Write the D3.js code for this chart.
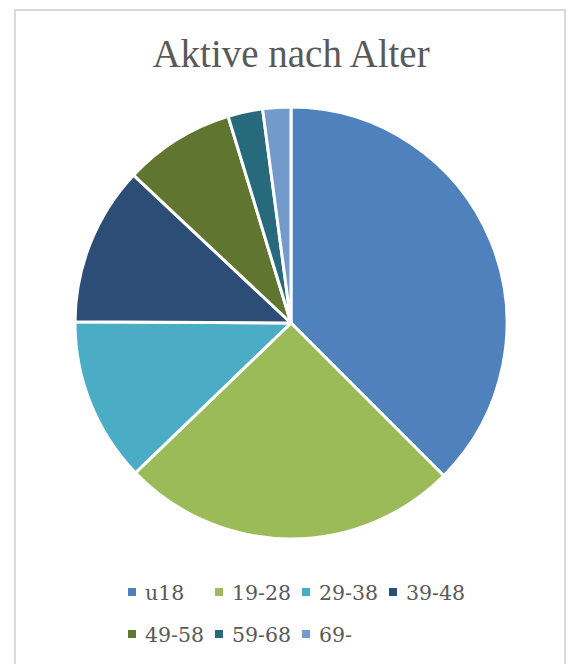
<!DOCTYPE html>
<meta charset="utf-8">
<style>
    body { margin: 0; background: #fff; }
    .title { font-family: "Liberation Serif", serif; font-size: 39px; fill: #595959; }
    .legend text { font-family: "DejaVu Serif", serif; font-size: 20.5px; fill: #595959; }
</style>
<svg width="568" height="664"></svg>
<script src="https://d3js.org/d3.v7.min.js"></script>
<script>
    var categories = ["u18", "19-28", "29-38", "39-48", "49-58", "59-68", "69-"];
    var values = [37.5, 25.3, 12.3, 11.9, 8.3, 2.6, 2.1];
    var colors = ["#4F81BD", "#9BBB59", "#4BACC6", "#2C4D75", "#5F7530", "#276A7C", "#729ACA"];

    var svg = d3.select("svg"),
        width = +svg.attr("width"),
        height = +svg.attr("height");

    // chart frame
    svg.append("rect")
        .attr("x", 15).attr("y", 10)
        .attr("width", 550).attr("height", 700)
        .attr("fill", "#fff")
        .attr("stroke", "#d9d9d9")
        .attr("stroke-width", 2);

    svg.append("text")
        .attr("class", "title")
        .attr("x", 291).attr("y", 67)
        .attr("text-anchor", "middle")
        .text("Aktive nach Alter");

    var color = d3.scaleOrdinal().domain(categories).range(colors);
    var radius = 216;

    var pie = d3.pie().sort(null).value(function (d, i) { return values[i]; });
    var arc = d3.arc().innerRadius(0).outerRadius(radius);

    svg.append("g")
        .attr("transform", "translate(291,323)")
        .selectAll("path")
        .data(pie(categories))
        .enter().append("path")
        .attr("d", arc)
        .attr("fill", function (d) { return color(d.data); })
        .attr("stroke", "#fff")
        .attr("stroke-width", 3)
        .attr("stroke-linejoin", "round");

    // legend, 4 per row
    var legend = svg.append("g").attr("class", "legend");
    var item = legend.selectAll("g")
        .data(categories)
        .enter().append("g")
        .attr("transform", function (d, i) {
            return "translate(" + (128 + (i % 4) * 87) + "," + (600 + Math.floor(i / 4) * 42) + ")";
        });
    item.append("rect")
        .attr("x", 0).attr("y", -12)
        .attr("width", 8).attr("height", 8)
        .attr("fill", function (d) { return color(d); });
    item.append("text")
        .attr("x", 17).attr("y", 0)
        .text(function (d) { return d; });
</script>
